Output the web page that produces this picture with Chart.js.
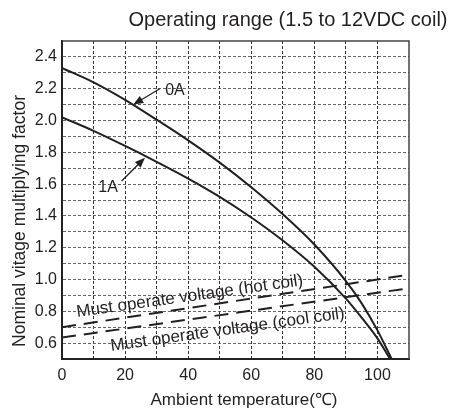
<!DOCTYPE html>
<html>
<head>
<meta charset="utf-8">
<script src="https://cdn.jsdelivr.net/npm/chart.js@4.4.1/dist/chart.umd.min.js"></script>
<style>
  body { margin: 0; background: #fff; }
  #wrap { width: 459px; height: 416px; position: relative; }
</style>
</head>
<body>
<div id="wrap"><canvas id="rangeChart"></canvas></div>
<script>
// values
const temps0A = [0, 10, 20, 30, 40, 50, 60, 70, 80, 90, 95, 100, 104.5];
const factor0A = [2.33, 2.24, 2.13, 2.005, 1.875, 1.735, 1.58, 1.41, 1.22, 0.99, 0.85, 0.68, 0.50];
const temps1A = [0, 10, 20, 30, 40, 50, 60, 70, 80, 90, 95, 100, 104];
const factor1A = [2.02, 1.935, 1.84, 1.74, 1.635, 1.52, 1.39, 1.245, 1.08, 0.88, 0.76, 0.63, 0.50];
const coilTemps = [0, 110];
const hotCoil = [0.70, 1.03];
const coolCoil = [0.635, 0.945];

const xLabels = [0, 20, 40, 60, 80, 100];
const yLabels = [0.6, 0.8, 1.0, 1.2, 1.4, 1.6, 1.8, 2.0, 2.2, 2.4];

// curve names + arrows (data coords)
const curveNames = ['0A', '1A'];
const nameAt = [[35.8, 2.19], [14.6, 1.58]];
const arrowFrom = [[31.0, 2.20], [18.9, 1.62]];
const arrowTo = [[22.6, 2.10], [26.3, 1.765]];
const voltNames = ['Must operate voltage (hot coil)', 'Must operate voltage (cool coil)'];
const voltAt = [[40.7, 0.864], [52.7, 0.654]];

const ink = '#231f20';
const fam = '"Liberation Sans", Arial, sans-serif';
Chart.defaults.font.family = fam;
Chart.defaults.color = ink;

const pts = (xs, ys) => xs.map((x, i) => ({x: x, y: ys[i]}));

const sheetText = {
  id: 'sheetText',
  afterDatasetsDraw(chart) {
    const {ctx, chartArea: a, scales: {x, y}} = chart;
    ctx.save();
    // top / right frame
    ctx.strokeStyle = '#444';
    ctx.lineWidth = 1.5;
    ctx.beginPath();
    ctx.moveTo(a.left, a.top);
    ctx.lineTo(a.right, a.top);
    ctx.lineTo(a.right, a.bottom);
    ctx.stroke();

    ctx.fillStyle = ink;
    ctx.strokeStyle = ink;
    // arrows
    arrowFrom.forEach((f, i) => {
      const x1 = x.getPixelForValue(f[0]), y1 = y.getPixelForValue(f[1]);
      const x2 = x.getPixelForValue(arrowTo[i][0]), y2 = y.getPixelForValue(arrowTo[i][1]);
      const ang = Math.atan2(y2 - y1, x2 - x1);
      ctx.lineWidth = 1.3;
      ctx.beginPath();
      ctx.moveTo(x1, y1);
      ctx.lineTo(x2 - 6 * Math.cos(ang), y2 - 6 * Math.sin(ang));
      ctx.stroke();
      ctx.beginPath();
      ctx.moveTo(x2, y2);
      ctx.lineTo(x2 - 10 * Math.cos(ang) + 4 * Math.sin(ang), y2 - 10 * Math.sin(ang) - 4 * Math.cos(ang));
      ctx.lineTo(x2 - 10 * Math.cos(ang) - 4 * Math.sin(ang), y2 - 10 * Math.sin(ang) + 4 * Math.cos(ang));
      ctx.closePath();
      ctx.fill();
    });
    ctx.font = '16px ' + fam;
    ctx.textAlign = 'center';
    ctx.textBaseline = 'middle';
    curveNames.forEach((n, i) => {
      ctx.fillText(n, x.getPixelForValue(nameAt[i][0]), y.getPixelForValue(nameAt[i][1]));
    });
    // rotated voltage labels
    ctx.font = '17px ' + fam;
    ctx.textBaseline = 'alphabetic';
    voltNames.forEach((n, i) => {
      ctx.save();
      ctx.translate(x.getPixelForValue(voltAt[i][0]), y.getPixelForValue(voltAt[i][1]));
      ctx.rotate(-8 * Math.PI / 180);
      ctx.fillText(n, 0, 0);
      ctx.restore();
    });
    // titles
    ctx.textBaseline = 'middle';
    ctx.font = '20px ' + fam;
    ctx.fillText('Operating range (1.5 to 12VDC coil)', 288, 20);
    ctx.font = '17px ' + fam;
    ctx.fillText('Ambient temperature(℃)', 244, 400);
    ctx.save();
    ctx.translate(20, 221);
    ctx.rotate(-Math.PI / 2);
    ctx.font = '17.5px ' + fam;
    ctx.fillText('Nominal vitage multiplying factor', 0, 0);
    ctx.restore();
    ctx.restore();
  }
};

new Chart(document.getElementById('rangeChart'), {
  type: 'line',
  data: {
    datasets: [
      { label: '0A', data: pts(temps0A, factor0A), borderColor: ink, borderWidth: 2, cubicInterpolationMode: 'monotone' },
      { label: '1A', data: pts(temps1A, factor1A), borderColor: ink, borderWidth: 2, cubicInterpolationMode: 'monotone' },
      { label: 'hot coil', data: pts(coilTemps, hotCoil), borderColor: ink, borderWidth: 2, borderDash: [14, 8] },
      { label: 'cool coil', data: pts(coilTemps, coolCoil), borderColor: ink, borderWidth: 2, borderDash: [14, 8] }
    ]
  },
  options: {
    responsive: true,
    maintainAspectRatio: false,
    animation: false,
    layout: { padding: { top: 41, right: 50, left: 0, bottom: 0 } },
    elements: { point: { radius: 0 } },
    plugins: { legend: { display: false }, tooltip: { enabled: false } },
    scales: {
      x: {
        type: 'linear', min: 0, max: 110,
        afterFit: s => { s.height = 57; },
        grid: { color: c => (c.tick && (c.tick.value === 0 || c.tick.value === 110)) ? 'rgba(0,0,0,0)' : '#333', lineWidth: 1, drawTicks: false },
        border: { color: '#222', width: 2, dash: [3, 2] },
        ticks: {
          stepSize: 10, padding: 7, autoSkip: false, maxRotation: 0,
          font: { size: 16 }, color: ink,
          callback: v => xLabels.includes(v) ? String(v) : ''
        }
      },
      y: {
        min: 0.5, max: 2.5,
        afterFit: s => { s.width = 62; },
        grid: { color: c => (c.tick && (Math.abs(c.tick.value - 0.5) < 0.01 || Math.abs(c.tick.value - 2.5) < 0.01)) ? 'rgba(0,0,0,0)' : '#666', lineWidth: 1, drawTicks: false },
        border: { color: '#222', width: 2, dash: [3, 2] },
        ticks: {
          stepSize: 0.1, padding: 5, autoSkip: false,
          font: { size: 16 }, color: ink,
          callback: v => yLabels.some(l => Math.abs(l - v) < 0.001) ? v.toFixed(1) : ''
        }
      }
    }
  },
  plugins: [sheetText]
});
</script>
</body>
</html>
